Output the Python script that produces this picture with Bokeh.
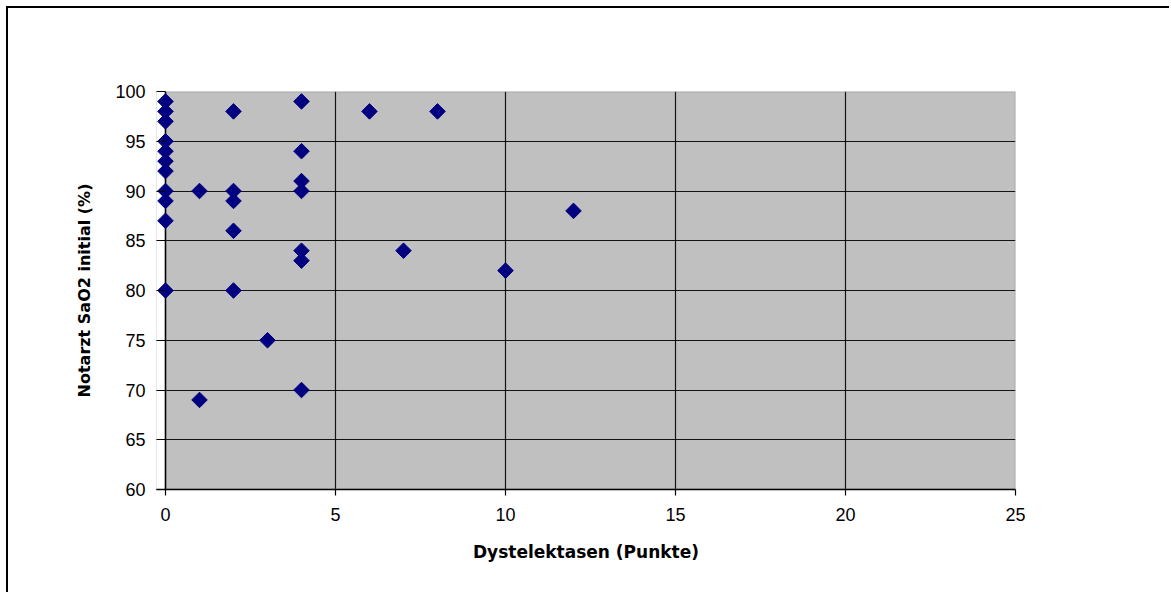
import math
from bokeh.plotting import figure
from bokeh.embed import file_html
from bokeh.resources import INLINE
from bokeh.models import FixedTicker, Range1d, BoxAnnotation, Span

# Data
dystelektasen = [0, 0, 0, 0, 0, 0, 0, 0, 0, 0, 0,
                 1, 1,
                 2, 2, 2, 2, 2,
                 3,
                 4, 4, 4, 4, 4, 4, 4,
                 6, 7, 8, 10, 12]
sao2 = [99, 98, 97, 95, 94, 93, 92, 90, 89, 87, 80,
        90, 69,
        98, 90, 89, 86, 80,
        75,
        99, 94, 91, 90, 84, 83, 70,
        98, 84, 98, 82, 88]
x_ticks = [0, 5, 10, 15, 20, 25]
y_ticks = [60, 65, 70, 75, 80, 85, 90, 95, 100]
x_min, x_max = 0, 25
y_min, y_max = 60, 100

# small padding to the left so the markers at x=0 are not clipped
pad_px = 9
px_per_unit = 34.0
x_start = x_min - pad_px / px_per_unit

p = figure(width=1163, height=586, output_backend="svg", toolbar_location=None,
           x_range=Range1d(x_start, x_max), y_range=Range1d(y_min, y_max),
           min_border_left=157 - pad_px, min_border_right=156, min_border_top=83, min_border_bottom=105,
           background_fill_color="#C0C0C0", border_fill_color="white",
           styles={"margin-left": "6px", "margin-top": "6px",
                   "border-left": "2px solid black", "border-top": "2px solid black"})
p.outline_line_color = None

font = "Liberation Sans"
title_font = "DejaVu Sans"
for ax in (p.xaxis[0], p.yaxis[0]):
    ax.axis_line_color = "black"
    ax.axis_line_width = 1.5
    ax.major_tick_line_color = "black"
    ax.major_tick_line_width = 1.2
    ax.minor_tick_line_color = None
    ax.major_label_text_font = font
    ax.major_label_text_font_size = "18px"
    ax.major_label_text_color = "black"
    ax.axis_label_text_font = title_font
    ax.axis_label_text_font_style = "bold"
    ax.axis_label_text_font_size = "16px"
    ax.axis_label_text_color = "black"

p.xaxis[0].axis_label_text_font_size = "17px"
p.xaxis[0].ticker = FixedTicker(ticks=x_ticks)
p.yaxis[0].ticker = FixedTicker(ticks=y_ticks)
p.xaxis[0].major_tick_in = 0
p.xaxis[0].major_tick_out = 6
p.yaxis[0].major_tick_in = pad_px
p.yaxis[0].major_tick_out = 0
p.yaxis[0].axis_line_color = None
p.xaxis[0].major_label_standoff = 12
p.yaxis[0].major_label_standoff = 11
p.xaxis[0].axis_label = "Dystelektasen (Punkte)"
p.yaxis[0].axis_label = "Notarzt SaO2 initial (%)"
p.xaxis[0].axis_label_standoff = 18
p.yaxis[0].axis_label_standoff = 18

p.xgrid.ticker = FixedTicker(ticks=x_ticks[1:-1])
p.ygrid.ticker = FixedTicker(ticks=y_ticks[1:-1])
p.grid.grid_line_color = "black"
p.grid.grid_line_width = 1.2
p.grid.grid_line_alpha = 0.9

# white out the padding strip, then gray border for top/right and black y axis line
p.add_layout(BoxAnnotation(left=x_start, right=x_min, bottom=y_min, top=y_max,
                           fill_color="white", fill_alpha=1, line_color=None, level="underlay"))
p.add_layout(BoxAnnotation(left=x_min, right=x_max, bottom=y_min, top=y_max,
                           fill_color=None, fill_alpha=0, line_color="#808080", line_width=2,
                           level="underlay"))
p.add_layout(Span(location=x_min, dimension="height", line_color="black", line_width=1.5,
                  level="underlay"))

p.scatter(dystelektasen, sao2, marker="square", angle=math.pi / 4, size=11,
          fill_color="#000080", line_color="#000080")

open("out.html", "w").write(file_html(p, INLINE))
